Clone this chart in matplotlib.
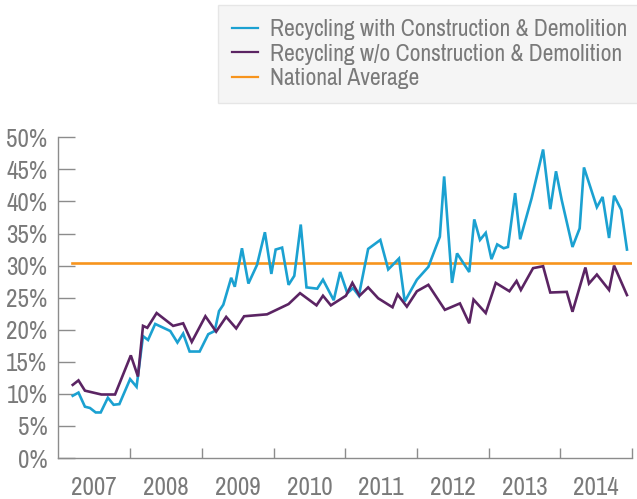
import matplotlib
matplotlib.use("Agg")
import matplotlib.pyplot as plt
from matplotlib import font_manager
from matplotlib.ticker import FixedLocator, NullFormatter, FixedFormatter

# Prefer a narrow/condensed sans if one is installed, otherwise Liberation Sans
narrow = None
for f in font_manager.fontManager.ttflist:
    if ('Narrow' in f.name or 'Condensed' in f.name) and f.style == 'normal':
        narrow = f.name
        break
if narrow is None:
    for f in font_manager.fontManager.ttflist:
        if f.stretch in ('condensed', 'semi-condensed', 'extra-condensed') and f.style == 'normal':
            narrow = f.name
            break
FAMILY = [narrow, 'DejaVu Sans'] if narrow else ['Liberation Sans', 'DejaVu Sans']
SCALE = 1.0 if narrow else 0.8
plt.rcParams['font.family'] = FAMILY

# Decimal-year positions and values (%)
with_cd_x = [2007.20, 2007.28, 2007.37, 2007.44, 2007.52, 2007.59, 2007.69, 2007.77, 2007.85,
             2008.00, 2008.09, 2008.18, 2008.25, 2008.35, 2008.56, 2008.66, 2008.74, 2008.83, 2008.97,
             2009.09, 2009.18, 2009.24, 2009.30, 2009.41, 2009.46, 2009.56, 2009.65, 2009.77, 2009.88, 2009.97,
             2010.03, 2010.12, 2010.21, 2010.29, 2010.38, 2010.46, 2010.61, 2010.69, 2010.84, 2010.93,
             2011.03, 2011.11, 2011.19, 2011.32, 2011.49, 2011.60, 2011.75, 2011.83,
             2012.00, 2012.16, 2012.32, 2012.38, 2012.49, 2012.56, 2012.73, 2012.80, 2012.88, 2012.96,
             2013.04, 2013.12, 2013.21, 2013.27, 2013.37, 2013.44, 2013.60, 2013.76, 2013.86, 2013.94,
             2014.02, 2014.17, 2014.27, 2014.33, 2014.51, 2014.59, 2014.68, 2014.75, 2014.85, 2014.93]
with_cd = [9.7, 10.2, 8.0, 7.8, 7.1, 7.1, 9.4, 8.3, 8.4,
           12.3, 11.1, 19.0, 18.4, 20.9, 19.8, 18.0, 19.4, 16.6, 16.6,
           19.3, 19.8, 22.9, 23.9, 28.1, 26.7, 32.7, 27.2, 30.1, 35.2, 28.7,
           32.5, 32.8, 27.0, 28.4, 36.4, 26.6, 26.4, 27.8, 24.6, 29.0,
           25.7, 26.5, 25.3, 32.6, 34.0, 29.4, 31.1, 24.4,
           27.8, 29.8, 34.5, 43.9, 27.3, 31.9, 29.0, 37.2, 34.0, 35.1,
           31.0, 33.3, 32.7, 32.9, 41.3, 34.1, 40.5, 48.1, 38.8, 44.7,
           40.2, 32.9, 35.8, 45.3, 39.1, 40.7, 34.3, 40.9, 38.7, 32.5]

without_cd_x = [2007.20, 2007.28, 2007.37, 2007.60, 2007.79,
                2008.01, 2008.11, 2008.18, 2008.24, 2008.37, 2008.60, 2008.74, 2008.86,
                2009.05, 2009.20, 2009.34, 2009.48, 2009.59, 2009.91,
                2010.21, 2010.37, 2010.60, 2010.69, 2010.80,
                2011.01, 2011.10, 2011.20, 2011.32, 2011.46, 2011.66, 2011.73, 2011.86,
                2012.00, 2012.16, 2012.39, 2012.60, 2012.73, 2012.79, 2012.96,
                2013.10, 2013.29, 2013.39, 2013.45, 2013.62, 2013.76, 2013.86,
                2014.09, 2014.17, 2014.35, 2014.40, 2014.51, 2014.68, 2014.75, 2014.93]
without_cd = [11.4, 12.1, 10.5, 9.9, 9.9,
              16.0, 12.7, 20.6, 20.3, 22.6, 20.6, 21.0, 18.1,
              22.1, 19.7, 22.0, 20.2, 22.1, 22.4,
              24.0, 25.7, 23.8, 25.3, 23.8,
              25.3, 27.3, 25.3, 26.6, 24.9, 23.5, 25.5, 23.6,
              26.0, 27.0, 23.1, 24.1, 21.0, 24.7, 22.6,
              27.3, 26.0, 27.6, 26.2, 29.6, 29.9, 25.8,
              25.9, 22.8, 29.7, 27.2, 28.6, 26.2, 30.0, 25.4]

national_average = 30.4

years = ['2007', '2008', '2009', '2010', '2011', '2012', '2013', '2014']
y_ticks = [0, 5, 10, 15, 20, 25, 30, 35, 40, 45, 50]

series_labels = ['Recycling with Construction & Demolition',
                 'Recycling w/o Construction & Demolition',
                 'National Average']

BLUE = '#1ba1d1'
PURPLE = '#5b2463'
ORANGE = '#f7941d'
GRAY = '#7a7a7a'
AXIS = '#8c8c8c'

W, H = 637, 499
fig = plt.figure(figsize=(W / 100, H / 100), dpi=100)
left, right, bottom, top = 58.4, 632, 458, 137.3
ax = fig.add_axes([left / W, 1 - bottom / H, (right - left) / W, (bottom - top) / H])

x0 = int(years[0])
x1 = int(years[-1]) + 1

l1, = ax.plot(with_cd_x, with_cd, color=BLUE, lw=1.9, solid_joinstyle='miter', zorder=3)
l2, = ax.plot(without_cd_x, without_cd, color=PURPLE, lw=1.9, solid_joinstyle='miter', zorder=3)
l3 = ax.axhline(national_average, xmin=(72 - left) / (right - left), xmax=1.0,
                color=ORANGE, lw=1.9, zorder=2)

ax.set_xlim(x0, x1)
ax.set_ylim(0, 50)

# x: boundary ticks, centered labels
ax.xaxis.set_major_locator(FixedLocator(list(range(x0 + 1, x1 + 1))))
ax.xaxis.set_major_formatter(NullFormatter())
ax.xaxis.set_minor_locator(FixedLocator([int(y) + 0.5 for y in years]))
ax.xaxis.set_minor_formatter(FixedFormatter(years))
ax.tick_params(axis='x', which='major', direction='in', length=7, width=1, color=AXIS)
ax.tick_params(axis='x', which='minor', length=0, pad=13, labelsize=18 * SCALE, labelcolor=GRAY)

ax.set_yticks(y_ticks)
ax.set_yticklabels([f'{v}%' for v in y_ticks])
ax.tick_params(axis='y', direction='in', length=12, width=1, color=AXIS,
               labelsize=18 * SCALE, labelcolor=GRAY, pad=8)

for s in ['top', 'right']:
    ax.spines[s].set_visible(False)
for s in ['left', 'bottom']:
    ax.spines[s].set_color(AXIS)
    ax.spines[s].set_linewidth(1)

leg = fig.legend([l1, l2, l3], series_labels, loc='upper left',
                 bbox_to_anchor=(218 / W, 1 - 5 / H), bbox_transform=fig.transFigure,
                 frameon=True, fancybox=False, fontsize=17 * SCALE, labelcolor=GRAY,
                 handlelength=1.1, handletextpad=0.5, borderpad=0.6,
                 labelspacing=0.15, borderaxespad=0)
fr = leg.get_frame()
fr.set_facecolor('#f3f3f3')
fr.set_edgecolor('#e2e2e2')
fr.set_linewidth(1)
for h in leg.legend_handles:
    h.set_linewidth(1.6)

fig.savefig('out.png', dpi=100)
